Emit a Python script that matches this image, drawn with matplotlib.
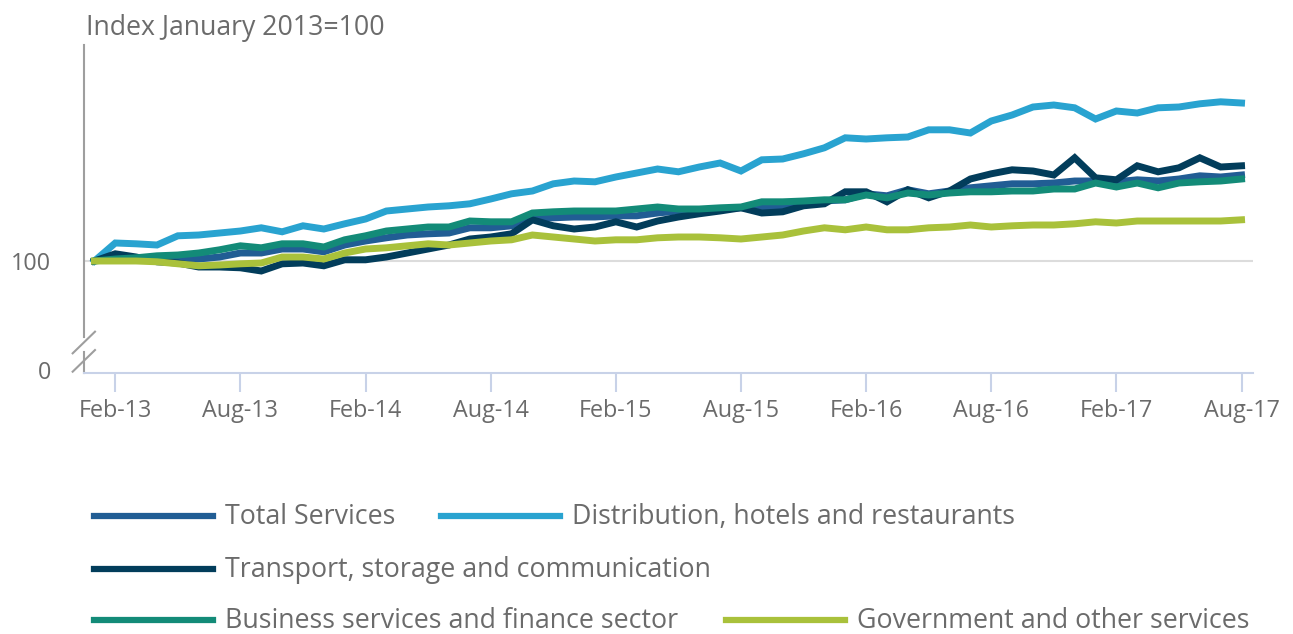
import matplotlib
matplotlib.use("Agg")
import matplotlib.pyplot as plt
from matplotlib.lines import Line2D
import pandas as pd

plt.rcParams['font.family'] = ['Open Sans', 'DejaVu Sans']

# monthly, Jan-13 .. Aug-17 (index Jan 2013 = 100)
months = pd.date_range('2013-01-01', periods=56, freq='MS')

total_services = [100.0, 100.8, 100.5, 100.0, 100.5, 100.5, 101.0, 102.0, 102.0, 103.0,
                  103.0, 102.3, 104.0, 105.0, 105.8, 106.5, 106.8, 107.0, 108.3, 108.3,
                  108.8, 110.8, 110.8, 111.0, 111.0, 111.3, 111.3, 112.0, 112.5, 112.8,
                  113.0, 113.3, 113.5, 113.8, 114.5, 115.0, 115.3, 116.8, 116.3, 117.8,
                  116.8, 117.5, 118.3, 118.8, 119.3, 119.3, 119.5, 120.0, 120.0, 119.8,
                  120.3, 120.0, 120.5, 121.3, 121.0, 121.5]
distribution = [100.0, 104.5, 104.3, 104.0, 106.3, 106.5, 107.0, 107.5, 108.3, 107.3,
                108.8, 108.0, 109.3, 110.5, 112.5, 113.0, 113.5, 113.8, 114.3, 115.5,
                116.8, 117.5, 119.3, 120.0, 119.8, 121.0, 122.0, 123.0, 122.3, 123.5,
                124.5, 122.5, 125.3, 125.5, 126.8, 128.3, 130.8, 130.5, 130.8, 131.0,
                132.8, 132.8, 132.0, 135.0, 136.5, 138.5, 139.0, 138.3, 135.5, 137.5,
                137.0, 138.3, 138.5, 139.3, 139.8, 139.5]
transport = [100.0, 101.8, 101.0, 99.8, 99.5, 98.5, 98.5, 98.3, 97.5, 99.3,
             99.5, 98.8, 100.3, 100.3, 101.0, 102.0, 103.0, 104.0, 105.5, 106.0,
             106.8, 110.3, 108.8, 108.0, 108.5, 109.8, 108.5, 110.0, 111.0, 111.8,
             112.5, 113.3, 112.0, 112.3, 113.8, 114.3, 117.3, 117.3, 114.8, 117.8,
             115.8, 117.5, 120.5, 121.8, 122.8, 122.5, 121.5, 125.8, 120.8, 120.3,
             123.8, 122.3, 123.3, 125.8, 123.5, 123.8]
business = [100.0, 100.5, 100.8, 101.3, 101.5, 102.0, 102.8, 103.8, 103.3, 104.3,
            104.3, 103.5, 105.3, 106.3, 107.5, 108.0, 108.5, 108.5, 110.0, 109.8,
            109.8, 112.0, 112.3, 112.5, 112.5, 112.5, 113.0, 113.5, 113.0, 113.0,
            113.3, 113.5, 114.8, 114.8, 115.0, 115.3, 115.3, 116.5, 115.8, 117.0,
            116.5, 117.0, 117.3, 117.3, 117.5, 117.5, 118.0, 118.0, 119.5, 118.5,
            119.5, 118.3, 119.5, 119.8, 120.0, 120.5]
government = [100.0, 100.0, 100.0, 99.8, 99.3, 98.8, 99.0, 99.3, 99.5, 101.0,
              101.0, 100.5, 102.0, 103.0, 103.3, 103.8, 104.3, 104.0, 104.5, 105.0,
              105.3, 106.5, 106.0, 105.5, 105.0, 105.3, 105.3, 105.8, 106.0, 106.0,
              105.8, 105.5, 106.0, 106.5, 107.5, 108.3, 107.8, 108.5, 107.8, 107.8,
              108.3, 108.5, 109.0, 108.5, 108.8, 109.0, 109.0, 109.3, 109.8, 109.5,
              110.0, 110.0, 110.0, 110.0, 110.0, 110.3]

series = [
    ("Total Services", total_services, '#215d94'),
    ("Distribution, hotels and restaurants", distribution, '#29a3d0'),
    ("Transport, storage and communication", transport, '#023d5b'),
    ("Business services and finance sector", business, '#138b78'),
    ("Government and other services", government, '#a9c13b'),
]

text_col = '#6b6b6b'

fig = plt.figure(figsize=(12.93, 6.34), dpi=100)
ax = fig.add_axes([84 / 1293, 1 - 373 / 634, 1169 / 1293, 328 / 634])

x = list(range(len(months)))
for name, vals, col in series:
    ax.plot(x, vals, color=col, lw=5, solid_joinstyle='miter', zorder=3)

ax.set_xlim(-0.5, 55.55)
ax.set_ylim(72, 154)

ax.axhline(100, color='#dcdcdc', lw=1.5, zorder=1)

# x axis
tick_pos = [i for i in x if months[i].month in (2, 8)]
ax.set_xticks(tick_pos)
ax.set_xticklabels([months[i].strftime('%b-%y') for i in tick_pos])
ax.tick_params(axis='x', length=14, width=1.5, color='#c8d2e8', pad=5,
               labelsize=16.8, labelcolor=text_col)

# y axis, single labelled line at 100 plus a broken "0"
ax.set_yticks([100])
ax.set_yticklabels(['100'])
ax.tick_params(axis='y', length=0, pad=24, labelsize=16.8, labelcolor=text_col)
ax.text(-0.028, 0.0, '0', transform=ax.transAxes, ha='right', va='center',
        fontsize=16.8, color=text_col)

for s in ['top', 'right', 'left']:
    ax.spines[s].set_visible(False)
ax.spines['bottom'].set_color('#c8d2e8')
ax.spines['bottom'].set_linewidth(1.5)

# left spine with break marks
sp = '#9e9e9e'
ax.plot([0, 0], [0.11, 1.0], transform=ax.transAxes, color=sp, lw=1.5, clip_on=False)
ax.plot([0, 0], [0.0, 0.064], transform=ax.transAxes, color=sp, lw=1.5, clip_on=False)
ax.plot([-0.0097, 0.0094], [0.060, 0.126], transform=ax.transAxes, color=sp, lw=1.5, clip_on=False)
ax.plot([-0.0097, 0.0094], [0.004, 0.070], transform=ax.transAxes, color=sp, lw=1.5, clip_on=False)

fig.text(86 / 1293, 1 - 28 / 634, 'Index January 2013=100', ha='left', va='center',
         fontsize=19.2, color=text_col)

# legend drawn by hand to match the flow layout
legend_pos = [(94, 516), (441, 516), (94, 569), (94, 620), (726, 620)]
for (name, vals, col), (px, py) in zip(series, legend_pos):
    fy = 1 - py / 634
    fig.add_artist(Line2D([px / 1293, (px + 119) / 1293], [fy, fy], color=col, lw=4.5))
    fig.text((px + 131) / 1293, fy - 1 / 634, name, ha='left', va='center',
             fontsize=19.3, color=text_col)

fig.savefig('out.png', dpi=100)
